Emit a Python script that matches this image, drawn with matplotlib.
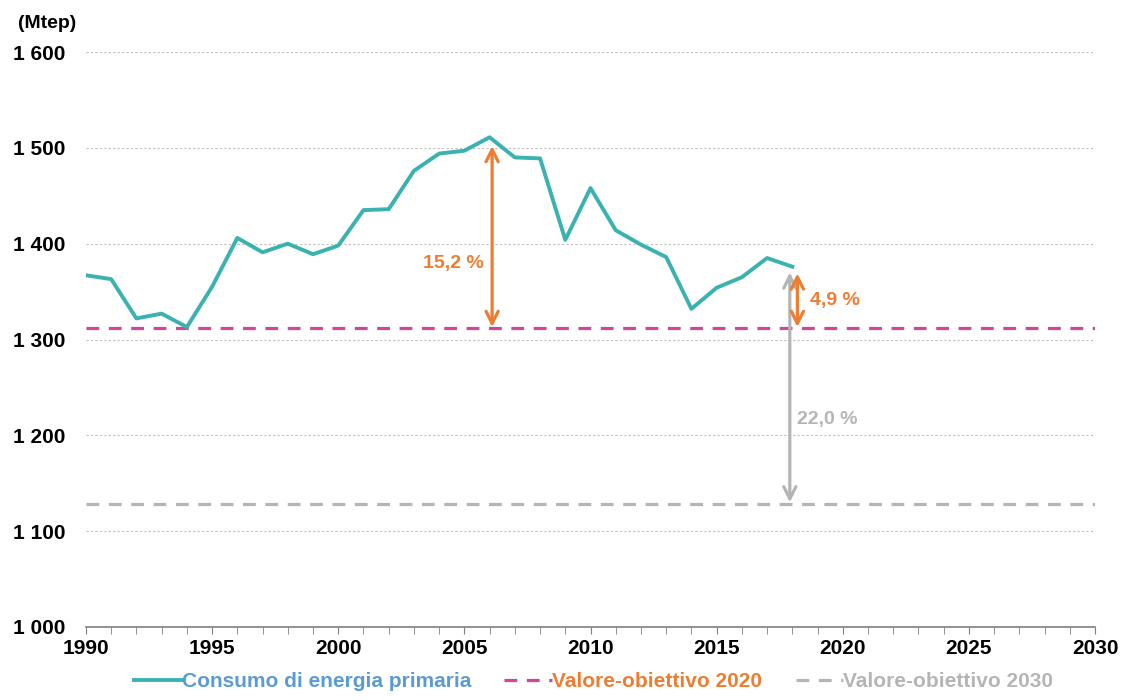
import matplotlib
matplotlib.use("Agg")
import matplotlib.pyplot as plt
from matplotlib.ticker import MultipleLocator, FuncFormatter

years = list(range(1990, 2019))
consumo = [1367, 1363, 1322, 1327, 1313, 1355, 1406, 1391, 1400, 1389,
           1398, 1435, 1436, 1476, 1494, 1497, 1511, 1490, 1489, 1404,
           1458, 1414, 1399, 1386, 1332, 1354, 1365, 1385, 1376]
target_2020 = 1312
target_2030 = 1128
labels = ["Consumo di energia primaria", "Valore-obiettivo 2020", "Valore-obiettivo 2030"]
gap_labels = ["15,2 %", "4,9 %", "22,0 %"]

teal = "#3AB2B0"
magenta = "#D0479A"
orange = "#ED7D31"
grey = "#B5B5B5"
label_blue = "#5B9BD5"

plt.rcParams["font.family"] = ["Liberation Sans", "DejaVu Sans"]
plt.rcParams["font.weight"] = "bold"

fig = plt.figure(figsize=(11.22, 7.0), dpi=100)
ax = fig.add_axes([0.0766, 0.1043, 0.8994, 0.8214])

l1, = ax.plot(years, consumo, color=teal, lw=2.8, label=labels[0], zorder=4)
l2 = ax.axhline(target_2020, color=magenta, lw=2.3, ls=(0, (4, 3)), label=labels[1], zorder=3)
l3 = ax.axhline(target_2030, color=grey, lw=2.3, ls=(0, (4, 3)), label=labels[2], zorder=3)

# gap arrows
arr = dict(arrowstyle="<->", lw=2.3, mutation_scale=22, shrinkA=0, shrinkB=0)
ax.annotate("", xy=(2006.1, 1313), xytext=(2006.1, 1502),
            arrowprops=dict(arr, color=orange), zorder=5)
ax.annotate("", xy=(2017.9, 1130), xytext=(2017.9, 1370),
            arrowprops=dict(arr, color=grey), zorder=5)
ax.annotate("", xy=(2018.2, 1313), xytext=(2018.2, 1369),
            arrowprops=dict(arr, color=orange), zorder=6)
ax.text(2004.55, 1379, gap_labels[0], color=orange, fontsize=14, ha="center", va="center")
ax.text(2018.7, 1341, gap_labels[1], color=orange, fontsize=14, ha="left", va="center")
ax.text(2018.2, 1216, gap_labels[2], color=grey, fontsize=14, ha="left", va="center")

ax.set_xlim(1990, 2030)
ax.set_ylim(1000, 1600)
ax.xaxis.set_major_locator(MultipleLocator(5))
ax.xaxis.set_minor_locator(MultipleLocator(1))
ax.yaxis.set_major_locator(MultipleLocator(100))
ax.yaxis.set_major_formatter(FuncFormatter(lambda v, p: f"{int(v):,}".replace(",", " ")))
ax.grid(axis="y", color="#BFBFBF", ls=(0, (2, 2)), lw=0.8)
ax.set_axisbelow(True)
for s in ["top", "right", "left"]:
    ax.spines[s].set_visible(False)
ax.spines["bottom"].set_color("#7F7F7F")
ax.spines["bottom"].set_linewidth(1.2)
ax.tick_params(axis="y", length=0, labelsize=15, pad=15)
ax.tick_params(axis="x", which="both", length=5, color="#7F7F7F", labelsize=15, pad=4)

fig.text(0.016, 0.966, "(Mtep)", fontsize=14, ha="left", va="center")

leg = fig.legend(handles=[l1, l2, l3], loc="lower center", bbox_to_anchor=(0.529, -0.014),
                 ncol=3, frameon=False, fontsize=15, handlelength=2.3,
                 handletextpad=0.0, columnspacing=1.6)
for t, c in zip(leg.get_texts(), [label_blue, orange, grey]):
    t.set_color(c)

fig.savefig("out.png", dpi=100)
